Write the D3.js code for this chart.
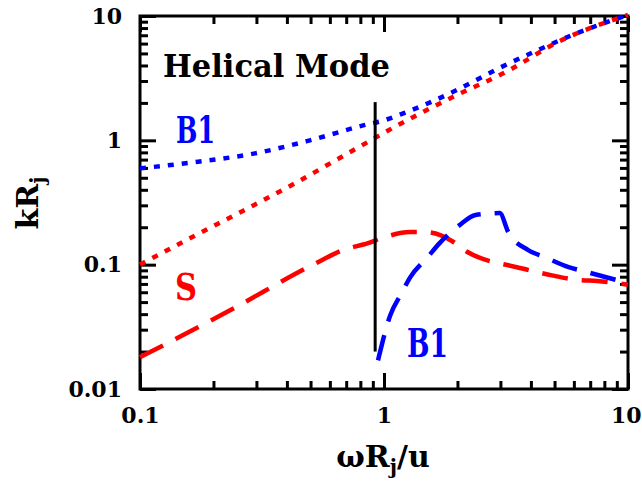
<!DOCTYPE html>
<html>
<head>
<meta charset="utf-8">
<script src="https://cdn.jsdelivr.net/npm/d3@7"></script>
<style>
  body { margin: 0; background: #fff; }
  text { font-family: "DejaVu Serif", serif; font-weight: bold; }
</style>
</head>
<body>
<div id="chart"></div>
<script>
// tick values
var xTicks = [0.1, 1, 10];
var yTicks = [0.01, 0.1, 1, 10];

// B1 body mode, upper branch (dotted blue)
var b1Dotted = [[0.1, 0.595], [0.173, 0.673], [0.296, 0.785], [0.497, 1.0], [0.836, 1.33],
  [0.99, 1.44], [1.22, 1.67], [1.99, 2.54], [2.95, 3.79], [4.22, 5.26], [6.06, 7.17], [10, 10.2]];
// S surface mode, upper branch (dotted red)
var sDotted = [[0.1, 0.1], [0.16, 0.163], [0.265, 0.272], [0.419, 0.437], [0.672, 0.738],
  [0.863, 0.975], [1.04, 1.2], [1.95, 2.27], [3.18, 3.57], [5.18, 6.2], [10, 10.2]];
// S surface mode (dashed red)
var sDashed = [[0.1, 0.018], [0.234, 0.043], [0.512, 0.1], [0.68, 0.131], [0.86, 0.149],
  [1.01, 0.167], [1.28, 0.183], [1.51, 0.182], [1.92, 0.153], [2.19, 0.127], [2.8, 0.105],
  [3.23, 0.099], [4.16, 0.088], [4.88, 0.082], [6.36, 0.075], [7.48, 0.074], [10, 0.069]];
// B1 body mode (dashed blue)
var b1Dashed = [[0.945, 0.017], [1.06, 0.039], [1.18, 0.059], [1.28, 0.079], [1.51, 0.115],
  [1.69, 0.149], [2.04, 0.208], [2.37, 0.251], [2.98, 0.26], [3.23, 0.183], [3.9, 0.131],
  [4.57, 0.115], [5.67, 0.096], [6.83, 0.087], [10, 0.071]];
// vertical marker line
var markerX = 0.92, markerY = [0.02, 2.03];

var margin = {top: 16, right: 14, bottom: 94, left: 140},
    W = 642, H = 483,
    width = W - margin.left - margin.right,
    height = H - margin.top - margin.bottom;

var svg = d3.select("#chart").append("svg")
    .attr("width", W)
    .attr("height", H);

var g = svg.append("g").attr("transform", "translate(" + margin.left + "," + margin.top + ")");

var x = d3.scaleLog().domain([0.1, 10]).range([0, width]);
var y = d3.scaleLog().domain([0.01, 10]).range([height, 0]);

function minors(decades) {
  var out = [];
  decades.forEach(function(d) { for (var k = 2; k <= 9; k++) out.push(d * k); });
  return out;
}
var xMinor = minors([0.1, 1]);
var yMinor = minors([0.01, 0.1, 1]);

function styleAxis(sel) {
  sel.select(".domain").remove();
  sel.selectAll(".tick line").attr("stroke", "#000").attr("stroke-width", 3);
  sel.selectAll(".tick text").attr("fill", "#000").attr("font-size", 22)
    .attr("font-family", "DejaVu Serif").attr("font-weight", "bold");
}

var fmt = function(d) { return d >= 1 ? d3.format("d")(d) : String(d); };

// bottom
g.append("g").attr("transform", "translate(0," + height + ")")
  .call(d3.axisBottom(x).tickValues(xMinor).tickSize(-8).tickFormat("")).call(styleAxis);
var xMajor = g.append("g").attr("transform", "translate(0," + height + ")")
  .call(d3.axisBottom(x).tickValues(xTicks).tickSize(-16).tickPadding(18).tickFormat(fmt)).call(styleAxis);
// keep the last label inside the window
xMajor.selectAll(".tick text").filter(function(d) { return d === 10; })
  .attr("text-anchor", "end").attr("x", 13);
// top
g.append("g")
  .call(d3.axisTop(x).tickValues(xMinor).tickSize(-8).tickFormat("")).call(styleAxis);
g.append("g")
  .call(d3.axisTop(x).tickValues(xTicks).tickSize(-16).tickFormat("")).call(styleAxis);
// left
g.append("g")
  .call(d3.axisLeft(y).tickValues(yMinor).tickSize(-8).tickFormat("")).call(styleAxis);
g.append("g")
  .call(d3.axisLeft(y).tickValues(yTicks).tickSize(-16).tickPadding(18).tickFormat(fmt)).call(styleAxis);
// right
g.append("g").attr("transform", "translate(" + width + ",0)")
  .call(d3.axisRight(y).tickValues(yMinor).tickSize(-8).tickFormat("")).call(styleAxis);
g.append("g").attr("transform", "translate(" + width + ",0)")
  .call(d3.axisRight(y).tickValues(yTicks).tickSize(-16).tickFormat("")).call(styleAxis);

g.append("rect")
  .attr("width", width).attr("height", height)
  .attr("fill", "none").attr("stroke", "#000").attr("stroke-width", 3);

var line = d3.line()
  .x(function(d) { return x(d[0]); })
  .y(function(d) { return y(d[1]); })
  .curve(d3.curveMonotoneX);

var series = [
  {data: b1Dotted, color: "#0000ff", dash: "6,8"},
  {data: sDotted, color: "#ff0000", dash: "6,8"},
  {data: sDashed, color: "#ff0000", dash: "26,14"},
  {data: b1Dashed, color: "#0000ff", dash: "26,14"}
];

g.selectAll("path.curve")
  .data(series)
  .enter().append("path")
    .attr("class", "curve")
    .attr("d", function(d) { return line(d.data); })
    .attr("fill", "none")
    .attr("stroke", function(d) { return d.color; })
    .attr("stroke-width", 4.5)
    .attr("stroke-dasharray", function(d) { return d.dash; });

g.append("line")
  .attr("x1", x(markerX)).attr("x2", x(markerX))
  .attr("y1", y(markerY[0])).attr("y2", y(markerY[1]))
  .attr("stroke", "#000").attr("stroke-width", 3);

// annotations
svg.append("text").attr("x", 163).attr("y", 77).attr("font-size", 31)
  .attr("textLength", 227).attr("lengthAdjust", "spacingAndGlyphs").text("Helical Mode");
svg.append("text").attr("x", 176).attr("y", 143).attr("font-size", 38).attr("fill", "#0000ff")
  .attr("textLength", 39).attr("lengthAdjust", "spacingAndGlyphs").text("B1");
svg.append("text").attr("x", 175).attr("y", 300).attr("font-size", 38).attr("fill", "#ff0000")
  .attr("textLength", 22).attr("lengthAdjust", "spacingAndGlyphs").text("S");
svg.append("text").attr("x", 407).attr("y", 357).attr("font-size", 39).attr("fill", "#0000ff")
  .attr("textLength", 41).attr("lengthAdjust", "spacingAndGlyphs").text("B1");

// axis titles
var xt = svg.append("text").attr("x", 383).attr("y", 467).attr("font-size", 30)
  .attr("text-anchor", "middle");
xt.append("tspan").text("ωR");
xt.append("tspan").attr("font-size", 20).attr("dy", 7).text("j");
xt.append("tspan").attr("dy", -7).text("/u");

var yt = svg.append("text").attr("transform", "translate(38,203) rotate(-90)")
  .attr("font-size", 30).attr("text-anchor", "middle");
yt.append("tspan").text("kR");
yt.append("tspan").attr("font-size", 20).attr("dy", 7).text("j");
</script>
</body>
</html>
